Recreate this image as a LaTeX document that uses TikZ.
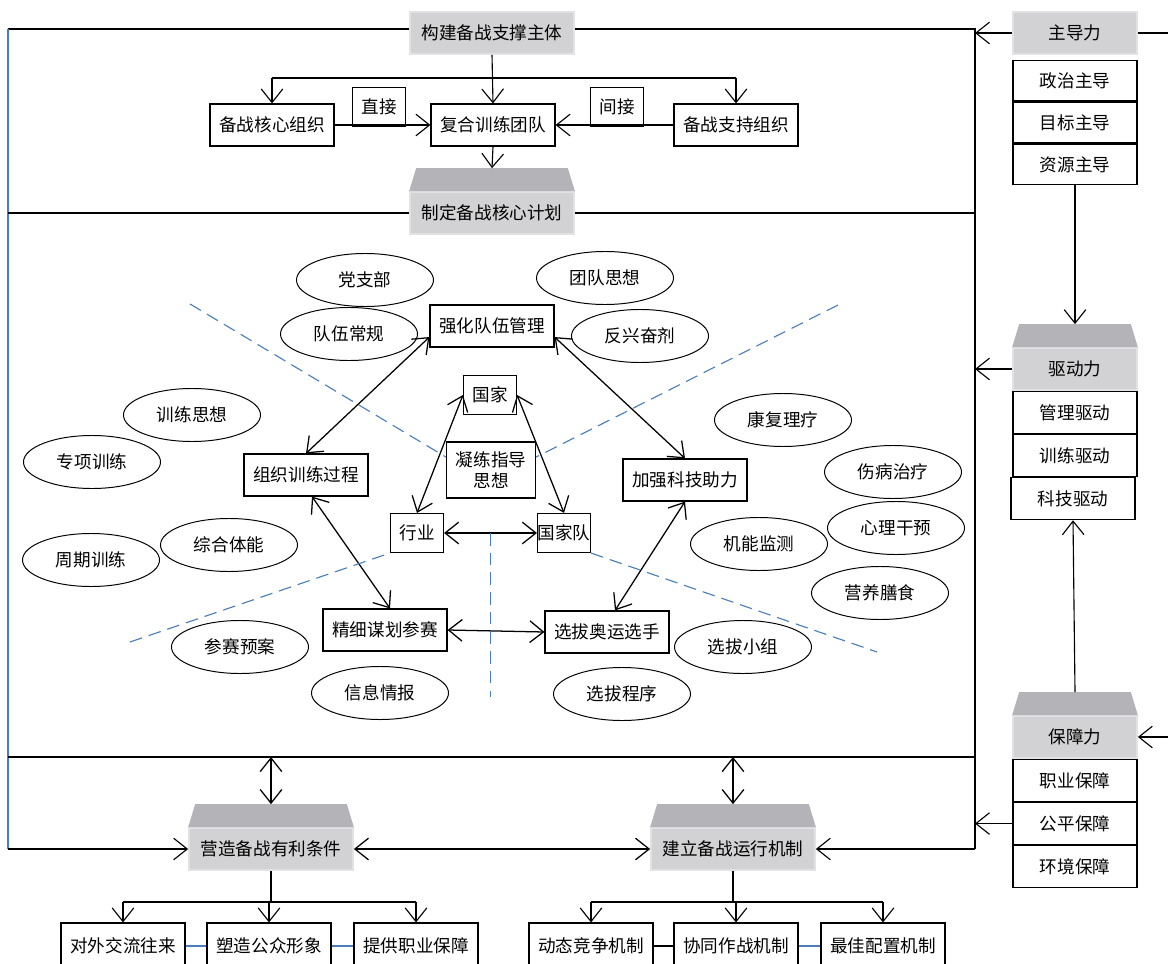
\documentclass[tikz,border=0pt]{standalone}
\usepackage{fontspec}
\setmainfont{Noto Sans CJK SC}
\usetikzlibrary{arrows.meta,calc,positioning,shapes.geometric}

\definecolor{headgray}{RGB}{210,210,212}
\definecolor{headedge}{RGB}{226,226,229}
\definecolor{topgray}{RGB}{180,180,184}
\definecolor{linkblue}{RGB}{74,126,187}

\begin{document}
\begin{tikzpicture}[x=0.025cm,y=-0.025cm,>={Straight Barb[length=3.4mm,width=5.4mm]}]
    \tikzset{
        every node/.style={font=\fontsize{12.5}{15}\selectfont},
        box/.style={draw, line width=0.8pt, fill=white,
            minimum width=3.1cm, minimum height=1.05cm, inner sep=1pt},
        tag/.style={box, minimum width=1.325cm, minimum height=0.975cm},
        oval/.style={draw, ellipse, line width=0.7pt,
            minimum width=3.425cm, minimum height=1.325cm, inner sep=0pt},
        head/.style={fill=headgray, draw=headedge, line width=1.2pt,
            minimum width=4.1cm, minimum height=1.05cm, inner sep=1pt},
        wire/.style={line width=0.8pt},
        link/.style={wire, ->},
        both/.style={line width=0.9pt, <->},
        split/.style={draw=linkblue, line width=0.8pt, dash pattern=on 9pt off 5pt}}
    \useasboundingbox (0,0) rectangle (1168,964);

    % top part
    \node[head] (build) at (492,33) {构建备战支撑主体};
    \node[box] (core) at (272,125) {备战核心组织};
    \node[box] (team) at (493,125) {复合训练团队};
    \node[box] (supp) at (736,125) {备战支持组织};
    \node[tag] (direct) at (379,107) {直接};
    \node[tag] (indirect) at (617,107) {间接};
    \node[head] (plan) at (492,213) {制定备战核心计划};

    % right column
    \node[head, minimum width=3.1cm] (lead) at (1075,33) {主导力};
    \node[box, minimum height=1.02cm, below=0.12cm of lead] (zz) {政治主导};
    \node[box, minimum height=1.02cm, below=0pt of zz] (mb) {目标主导};
    \node[box, minimum height=1.02cm, below=0pt of mb] (zy) {资源主导};
    \node[head, minimum width=3.1cm] (drive) at (1075,369) {驱动力};
    \node[box, below=0pt of drive] (gl) {管理驱动};
    \node[box, below=0pt of gl] (xl) {训练驱动};
    \node[box, below=0pt of xl, xshift=-0.05cm] (kj) {科技驱动};
    \node[head, minimum width=3.1cm] (guar) at (1075,737) {保障力};
    \node[box, below=0pt of guar] (zy2) {职业保障};
    \node[box, below=0pt of zy2] (gp) {公平保障};
    \node[box, below=0pt of gp] (hj) {环境保障};

    % middle part
    \node[box] (qh) at (492,326) {强化队伍管理};
    \node[tag] (gj) at (490,395) {国家};
    \node[box, minimum width=2.225cm, minimum height=1.4cm, align=center] (nl) at (491,470) {凝练指导\\思想};
    \node[box] (zx) at (306,475) {组织训练过程};
    \node[box] (jq) at (685,480) {加强科技助力};
    \node[tag] (hy) at (417,533) {行业};
    \node[tag, inner sep=0pt] (gjd) at (564,533) {国家队};
    \node[box] (jx) at (385,630) {精细谋划参赛};
    \node[box] (xb) at (607,632) {选拔奥运选手};

    \node[oval] (dzb) at (365,280) {党支部};
    \node[oval] (tdsx) at (605,278) {团队思想};
    \node[oval] (dwcg) at (349,334) {队伍常规};
    \node[oval] (fxfj) at (640,336) {反兴奋剂};
    \node[oval] (xlsx) at (192,415) {训练思想};
    \node[oval] (zxxl) at (92,462) {专项训练};
    \node[oval] (zhtn) at (229,545) {综合体能};
    \node[oval] (zqxl) at (91,560) {周期训练};
    \node[oval] (kfll) at (783,420) {康复理疗};
    \node[oval] (sbzl) at (893,472) {伤病治疗};
    \node[oval] (xlgy) at (896,528) {心理干预};
    \node[oval] (jnjc) at (759,544) {机能监测};
    \node[oval] (yyss) at (880,593) {营养膳食};
    \node[oval] (csya) at (240,647) {参赛预案};
    \node[oval] (xxqb) at (380,693) {信息情报};
    \node[oval] (xbxz) at (743,647) {选拔小组};
    \node[oval] (xbcx) at (622,694) {选拔程序};

    % bottom part
    \node[head] (create) at (271,849) {营造备战有利条件};
    \node[head] (mech) at (733,849) {建立备战运行机制};
    \node[box, minimum height=1.15cm] (dw) at (123,946) {对外交流往来};
    \node[box, minimum height=1.15cm] (sz) at (269,946) {塑造公众形象};
    \node[box, minimum height=1.15cm] (tg) at (416,946) {提供职业保障};
    \node[box, minimum height=1.15cm] (dt) at (591,946) {动态竞争机制};
    \node[box, minimum height=1.15cm] (xt) at (736,946) {协同作战机制};
    \node[box, minimum height=1.15cm] (zj) at (883,946) {最佳配置机制};

    \foreach \n in {plan,drive,guar,create,mech}{
        \fill[topgray] (\n.north west) -- ($(\n.north west)+(7,-23)$)
            -- ($(\n.north east)+(-7,-23)$) -- (\n.north east) -- cycle;
        \coordinate (\n-top) at ($(\n.north)+(0,-23)$);
    }

    \coordinate (tl) at (8,29);
    \coordinate (tr) at (975,29);
    \coordinate (fl) at (8,757);
    \coordinate (fr) at (975,757);
    \coordinate (bl) at (8,849);
    \coordinate (br) at (975,849);
    \coordinate (bar) at (0,78);
    \coordinate (low) at (0,902);

    % frame
    \draw[wire] (tl) -- (tl -| build.west);
    \draw[wire] (tr -| build.east) -- (tr) -- (br);
    \draw[wire, draw=linkblue] (tl) -- (bl);
    \draw[wire] (plan.west -| tl) -- (plan.west);
    \draw[wire] (plan.east) -- (plan.east -| tr);
    \draw[wire] (fl) -- (fr);
    \draw[link] (bl) -- (create.west);
    \draw[link] (br) -- (mech.east);
    \draw[both] (create.east) -- (mech.west);
    \draw[both] (create-top |- fl) -- (create-top);
    \draw[both] (mech-top |- fl) -- (mech-top);

    % top arrows
    \draw[link] (build.south) -- (team.north);
    \draw[wire] (core.north |- bar) -- (supp.north |- bar);
    \draw[link] (core.north |- bar) -- (core.north);
    \draw[link] (supp.north |- bar) -- (supp.north);
    \draw[link] (core.east) -- (team.west);
    \draw[link] (supp.west) -- (team.east);
    \draw[link] (team.south) -- (plan-top);

    % right arrows
    \draw[wire] (lead.east) -- ++(31,0);
    \draw[link] (lead.west) -- (lead.west -| tr);
    \draw[link] (drive.west) -- (drive.west -| tr);
    \draw[link] (gp.west) -- (gp.west -| tr);
    \draw[link] (zy.south) -- (drive-top);
    \draw[link] (guar-top) -- (kj.south);
    \draw[link] ($(guar.east)+(31,0)$) -- (guar.east);

    % middle arrows
    \draw[both] (qh.190) -- (zx.north);
    \draw[both] (qh.350) -- (jq.north);
    \draw[both] ($(zx.south)+(6,0)$) -- ($(jx.north)+(5,0)$);
    \draw[both] (jq.south) -- ($(xb.north)+(8,0)$);
    \draw[both] (jx.east) -- (xb.west);
    \draw[both] (gj.west) -- (hy.north);
    \draw[both] (gj.east) -- (gjd.north);
    \draw[both] (hy.east) -- (gjd.west);

    \draw[split] (190,304) -- (nl.164);
    \draw[split] (838,305) -- (nl.16);
    \draw[split] (130,642) -- (hy.south west);
    \draw[split] (gjd.south east) -- (877,652);
    \draw[split] ($(hy.east)!.5!(gjd.west)$) -- ++(0,164);

    % bottom arrows
    \draw[wire] (create.south) -- (create.south |- low);
    \draw[wire] (dw.north |- low) -- (tg.north |- low);
    \draw[wire] (mech.south) -- (mech.south |- low);
    \draw[wire] (dt.north |- low) -- (zj.north |- low);
    \foreach \n in {dw,sz,tg,dt,xt,zj}
        \draw[link] (\n.north |- low) -- (\n.north);
    \draw[wire, draw=linkblue] (dw.east) -- (sz.west);
    \draw[wire, draw=linkblue] (sz.east) -- (tg.west);
    \draw[wire] (dt.east) -- (xt.west);
    \draw[wire, draw=linkblue] (xt.east) -- (zj.west);
    %\draw[help lines] (0,0) grid[step=50] (1168,964);
\end{tikzpicture}
\end{document}
